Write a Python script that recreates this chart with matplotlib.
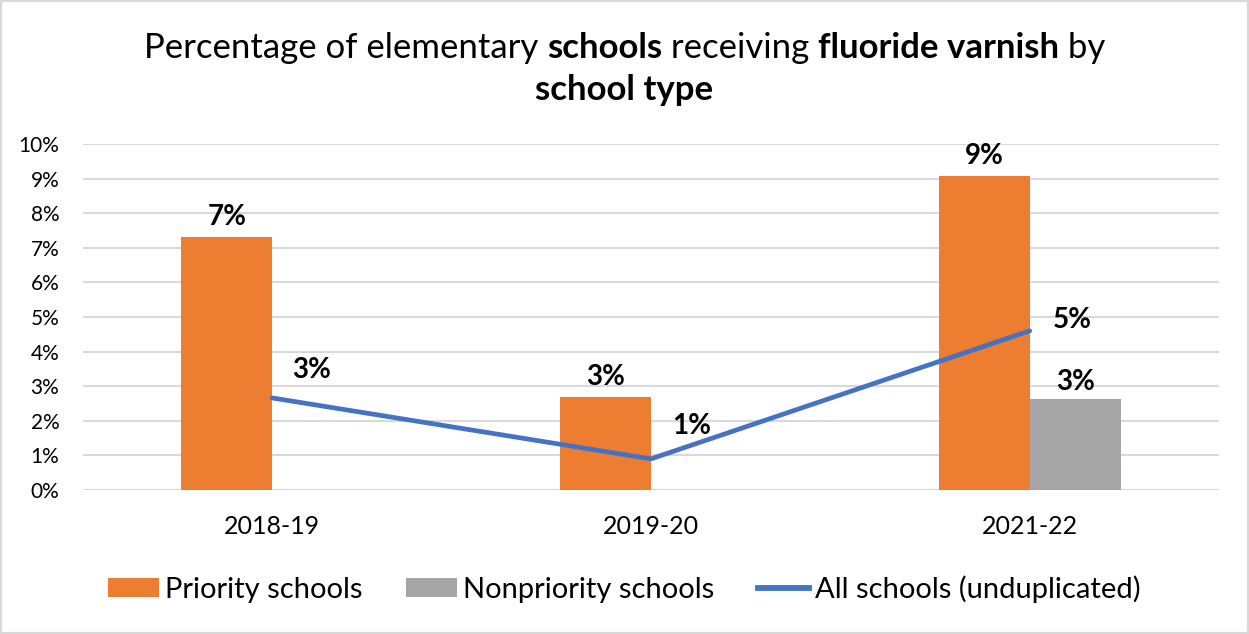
import numpy as np
import matplotlib
matplotlib.use("Agg")
import matplotlib.pyplot as plt
from matplotlib.lines import Line2D
from matplotlib.patches import Patch, Rectangle

plt.rcParams['font.family'] = ['Lato', 'DejaVu Sans']

# ---- data ----
years = ["2018-19", "2019-20", "2021-22"]
priority = [7.3, 2.7, 9.08]
nonpriority = [None, None, 2.63]
all_schools = [2.66, 0.9, 4.6]
y_ticks = list(range(0, 11))

ORANGE = "#ED7D31"
GRAY = "#A5A5A5"
BLUE = "#4472C4"
GRID = "#D9D9D9"

W, H, DPI = 1249, 634, 100
fig = plt.figure(figsize=(W / DPI, H / DPI), dpi=DPI)
fig.patch.set_facecolor("white")
fig.add_artist(Rectangle((0.0008, 0.0016), 0.9984, 0.9968, transform=fig.transFigure,
                         fill=False, edgecolor=GRID, linewidth=1.6))

ax = fig.add_axes([83 / W, (H - 490) / H, (1219 - 83) / W, (490 - 144) / H])
x = np.arange(len(years))
bw = 0.24

ax.bar(x - bw / 2, priority, width=bw, color=ORANGE, zorder=2)
nx = [xi for xi, v in zip(x, nonpriority) if v is not None]
nv = [v for v in nonpriority if v is not None]
ax.bar(np.array(nx) + bw / 2, nv, width=bw, color=GRAY, zorder=2)
ax.plot(x, all_schools, color=BLUE, linewidth=3.4, solid_capstyle="round", zorder=3)

ax.set_xlim(-0.5, 2.5)
ax.set_ylim(0, 10)
ax.set_yticks(y_ticks)
ax.set_yticklabels([f"{t}%" for t in y_ticks])
ax.set_xticks(x)
ax.set_xticklabels(years)
ax.tick_params(axis="both", length=0, colors="#000000")
ax.tick_params(axis="y", pad=17, labelsize=15)
ax.tick_params(axis="x", pad=18, labelsize=18)
for s in ax.spines.values():
    s.set_visible(False)
ax.grid(axis="y", color=GRID, linewidth=1.5, zorder=0)
ax.set_axisbelow(True)

# value labels
lab_kw = dict(fontsize=20, fontweight="bold", ha="center", va="bottom", color="#000000")
for xi, v in zip(x, priority):
    ax.annotate(f"{v:.0f}%", (xi - bw / 2, v), xytext=(0, 5), textcoords="offset points", **lab_kw)
for xi, v in zip(nx, nv):
    ax.annotate(f"{v:.0f}%", (xi + bw / 2, v), xytext=(0, 3), textcoords="offset points", **lab_kw)
line_offsets = [(28, 20), (29, 24), (31, 8)]
for xi, v, off in zip(x, all_schools, line_offsets):
    ax.annotate(f"{v:.0f}%", (xi, v), xytext=off, textcoords="offset points",
                fontsize=20, fontweight="bold", ha="center", va="center", color="#000000")

# title with mixed weights
renderer = fig.canvas.get_renderer()
def rich_line(segments, xc, yc, size):
    texts = []
    for s, bold in segments:
        t = fig.text(0, yc, s, fontsize=size, fontweight="bold" if bold else "normal",
                     va="center", ha="left", transform=None)
        texts.append(t)
    widths = [t.get_window_extent(renderer).width for t in texts]
    total = sum(widths)
    cur = xc - total / 2
    for t, w in zip(texts, widths):
        t.set_x(cur)
        cur += w

rich_line([("Percentage of elementary ", False), ("schools", True), (" receiving ", False),
           ("fluoride varnish", True), (" by", False)], W / 2, H - 48, 25)
rich_line([("school type", True)], W / 2, H - 90, 25)

handles = [Patch(facecolor=ORANGE), Patch(facecolor=GRAY),
           Line2D([0], [0], color=BLUE, linewidth=4.2)]
labels = ["Priority schools", "Nonpriority schools", "All schools (unduplicated)"]
fig.legend(handles, labels, loc="center", bbox_to_anchor=(0.5, (H - 589) / H), ncol=3,
           frameon=False, fontsize=21, handlelength=1.75, handleheight=0.62,
           handletextpad=0.2, columnspacing=1.5)

fig.savefig("out.png", dpi=DPI, facecolor="white")
